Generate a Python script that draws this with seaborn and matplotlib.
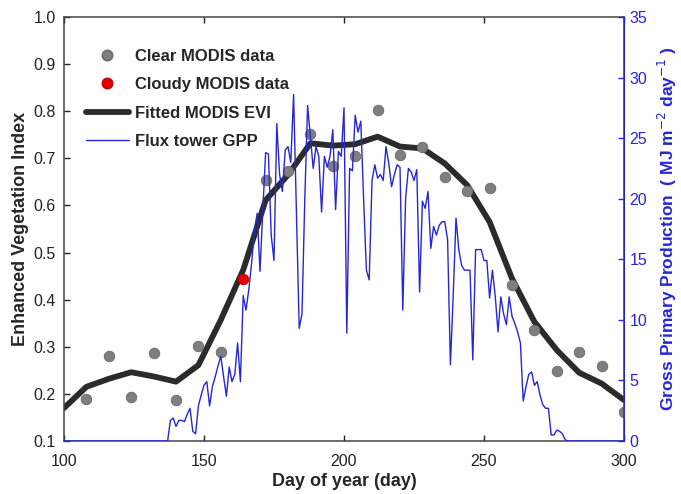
import numpy as np
import pandas as pd
import matplotlib
matplotlib.use("Agg")
import matplotlib.pyplot as plt
import seaborn as sns
from matplotlib.lines import Line2D

sns.set_style("white")
plt.rcParams["font.family"] = ["Liberation Sans", "DejaVu Sans"]

# ---- MODIS EVI observations (8-day composites) ----
clear_days = [108, 116, 124, 132, 140, 148, 156, 172, 180, 188, 196, 204, 212,
              220, 228, 236, 244, 252, 260, 268, 276, 284, 292, 300]
clear_evi = [0.189, 0.280, 0.193, 0.287, 0.186, 0.301, 0.289, 0.654, 0.674, 0.752,
             0.684, 0.706, 0.803, 0.707, 0.723, 0.660, 0.630, 0.636, 0.432, 0.335,
             0.249, 0.289, 0.259, 0.162]
cloudy_days = [164]
cloudy_evi = [0.443]

# ---- fitted EVI curve ----
fit_days = [100, 108, 116, 124, 132, 140, 148, 156, 164, 172, 180, 188, 196, 204,
            212, 220, 228, 236, 244, 252, 260, 268, 276, 284, 292, 300]
fit_evi = [0.170, 0.215, 0.232, 0.246, 0.237, 0.226, 0.261, 0.357, 0.463, 0.611,
           0.665, 0.732, 0.727, 0.730, 0.746, 0.725, 0.721, 0.689, 0.643, 0.565,
           0.445, 0.353, 0.293, 0.245, 0.222, 0.187]

# ---- flux tower GPP (daily) ----
gpp_days = [100] + list(range(137, 281)) + [300]
gpp = [0.0,
       0.0, 1.7, 1.9, 1.2, 1.7, 1.7, 1.6, 2.2, 2.7, 0.8,         # 137-146
       0.6, 2.9, 3.8, 4.6, 4.9, 2.9, 4.5, 5.3, 6.2, 7.0,         # 147-156
       5.3, 3.7, 6.1, 4.9, 5.5, 8.1, 4.9, 12.0, 10.8, 12.5,      # 157-166
       14.7, 17.4, 18.8, 14.0, 19.0, 23.8, 23.7, 17.0, 14.9, 26.2,  # 167-176
       22.0, 20.6, 24.0, 24.3, 23.0, 28.6, 19.0, 9.3, 10.5, 20.0,   # 177-186
       27.7, 25.1, 22.5, 24.3, 23.5, 18.9, 23.5, 22.6, 23.5, 25.7,  # 187-196
       19.1, 23.9, 23.5, 27.5, 8.9, 22.5, 22.3, 26.9, 25.5, 26.4,   # 197-206
       20.0, 14.1, 13.3, 21.5, 22.8, 21.7, 22.0, 21.5, 24.3, 22.9,  # 207-216
       21.0, 22.0, 22.8, 22.6, 10.8, 20.0, 22.5, 22.2, 21.5, 22.4,  # 217-226
       12.3, 19.8, 19.2, 20.6, 15.9, 17.7, 17.0, 17.8, 18.1, 18.1,  # 227-236
       16.6, 6.3, 12.0, 18.4, 15.8, 14.5, 14.1, 14.1, 14.1, 6.7,    # 237-246
       15.8, 15.8, 15.8, 14.9, 14.9, 11.8, 14.1, 12.0, 9.0, 11.9,   # 247-256
       10.5, 9.6, 11.9, 10.3, 9.7, 9.0, 8.1, 3.3, 4.5, 5.5,         # 257-266
       5.7, 4.6, 4.9, 3.8, 3.0, 2.7, 2.7, 0.5, 0.5, 0.9,            # 267-276
       0.8, 0.6, 0.1, 0.0,                                          # 277-280
       0.0]

BLUE = "#2626d9"
fig = plt.figure(figsize=(6.81, 4.94), dpi=100)
ax = fig.add_axes([64 / 681, 1 - 441 / 494, 560 / 681, 424 / 494])

sns.lineplot(x=fit_days, y=fit_evi, ax=ax, color="#2b2b2b", linewidth=4.2, zorder=2)
sns.scatterplot(x=clear_days, y=clear_evi, ax=ax, color="#7f7f7f", edgecolor="#6a6a6a",
                s=58, linewidth=0.6, zorder=3)
sns.scatterplot(x=cloudy_days, y=cloudy_evi, ax=ax, color="#e00000", edgecolor="#c00000",
                s=58, linewidth=0.6, zorder=3)

ax.set_xlim(100, 300)
ax.set_ylim(0.1, 1.0)
ax.set_xticks([100, 150, 200, 250, 300])
ax.set_yticks(np.arange(0.1, 1.01, 0.1))
ax.set_yticklabels([f"{v:.1f}" for v in np.arange(0.1, 1.01, 0.1)])
ax.tick_params(axis="both", direction="in", labelsize=11.5, length=4, width=1,
               colors="#222222", top=True, left=True, bottom=True, right=False)
ax.tick_params(axis="x", pad=9)
ax.tick_params(axis="y", pad=6)
ax.set_xlabel("Day of year (day)", fontsize=13, fontweight="bold", labelpad=3)
ax.set_ylabel("Enhanced Vegetation Index", fontsize=13, fontweight="bold", labelpad=3)
for side in ["left", "bottom", "top"]:
    ax.spines[side].set_color("#444444")
    ax.spines[side].set_linewidth(1.1)

ax2 = ax.twinx()
sns.lineplot(x=gpp_days, y=gpp, ax=ax2, color=BLUE, linewidth=1.0)
ax2.set_ylim(0, 35)
ax2.set_yticks(range(0, 36, 5))
ax2.tick_params(axis="y", direction="in", labelsize=11.5, length=4, width=1,
                colors=BLUE, labelcolor=BLUE, pad=4)
ax2.spines["right"].set_color(BLUE)
ax2.spines["right"].set_linewidth(1.1)
for side in ["left", "bottom", "top"]:
    ax2.spines[side].set_visible(False)
ax2.set_ylabel("Gross Primary Production  ( MJ m$^{-2}$ day$^{-1}$ )", fontsize=12.5,
               fontweight="bold", color=BLUE, labelpad=6)

handles = [
    Line2D([], [], marker="o", linestyle="none", markersize=7.6, color="#7f7f7f",
           markeredgecolor="#6a6a6a"),
    Line2D([], [], marker="o", linestyle="none", markersize=7.6, color="#e00000",
           markeredgecolor="#c00000"),
    Line2D([], [], color="#2b2b2b", linewidth=4.2),
    Line2D([], [], color=BLUE, linewidth=1.0),
]
labels = ["Clear MODIS data", "Cloudy MODIS data", "Fitted MODIS EVI", "Flux tower GPP"]
leg = ax2.legend(handles, labels, loc="upper left", bbox_to_anchor=(0.012, 0.96),
                 frameon=False, handlelength=2.6, labelspacing=0.8, handletextpad=0.35,
                 prop={"weight": "bold", "size": 12})

fig.savefig("out.png", dpi=100)
